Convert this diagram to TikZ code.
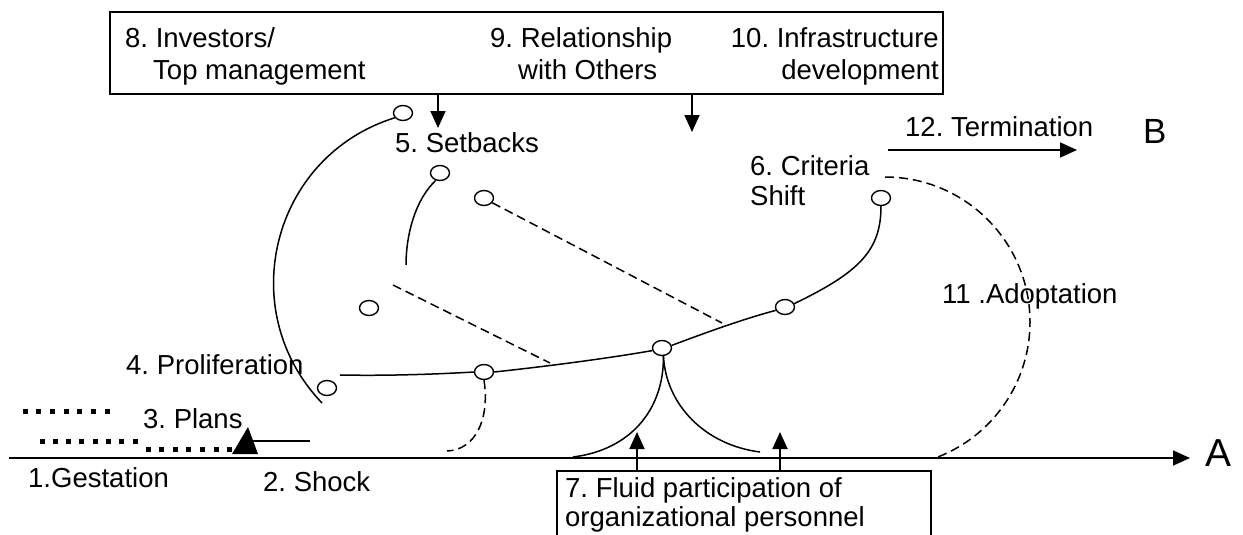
\documentclass[tikz,border=0pt]{standalone}
\usepackage{fontspec}
\setmainfont{Liberation Sans}
\usetikzlibrary{arrows.meta,shapes.geometric}
\frenchspacing
\begin{document}
\begin{tikzpicture}[x=1pt,y=-1pt,
  lbl/.style={font=\fontsize{27.5}{31}\selectfont\frenchspacing, inner sep=0pt, anchor=base west},
  lble/.style={lbl, anchor=base east},
  el/.style={draw, ellipse, minimum width=19pt, minimum height=15pt, inner sep=0pt, line width=1.4pt},
  cv/.style={line width=1.5pt},
  ds/.style={line width=1.5pt, dash pattern=on 9pt off 5pt},
  arr/.style={line width=1.8pt, -{Triangle[length=17pt,width=15pt]}},
  boxst/.style={draw, line width=1.8pt, inner sep=0pt}]
\useasboundingbox (0,0) rectangle (1243,535);

% top box
\node[boxst, minimum width=833pt, minimum height=82pt] (topbox) at (526.5,53) {};
\node[lbl] (t8a) at (125,48) {8. Investors/};
\node[lbl] (t8b) at (153,80) {Top management};
\node[lbl] (t9a) at (490,48) {9. Relationship};
\node[lbl] (t9b) at (518,80) {with Others};
\node[lble] (t10a) at (939,48) {10. Infrastructure};
\node[lble] (t10b) at (939,80) {development};

\coordinate (p5) at (438,128);
\draw[arr] (p5 |- topbox.south) -- (p5);
\coordinate (p9) at (692,132);
\draw[arr] (p9 |- topbox.south) -- (p9);

% labels
\node[lbl] (t5) at (395,152) {5. Setbacks};
\node[lbl] (t6a) at (750,175) {6. Criteria};
\node[lbl] (t6b) at (750,205) {Shift};
\node[lbl] (t4) at (126,374) {4. Proliferation};
\node[lbl] (t3) at (143,428) {3. Plans};
\node[lbl] (t1) at (28,487) {1.Gestation};
\node[lbl] (t2) at (263,491) {2. Shock};
\node[lbl] (t12) at (905,136) {12. Termination};
\node[lbl, font=\fontsize{35}{40}\selectfont] (tB) at (1143,143) {B};
\node[lbl, font=\fontsize{39}{44}\selectfont] (tA) at (1205,466) {A};
\node[lbl] (t11) at (942,303) {11 .Adoptation};

% termination arrow
\coordinate (ts) at (888,150);
\coordinate (te) at (1077,150);
\draw[arr] (ts) -- (te);

% axis
\coordinate (a0) at (9,458);
\coordinate (a1) at (1190,458);
\draw[arr] (a0) -- (a1);

% box 7
\node[boxst, minimum width=374pt, minimum height=100pt, anchor=north west] (box7) at (556,470) {};
\node[lbl] (t7a) at (565,497) {7. Fluid participation of};
\node[lbl] (t7b) at (565,526) {organizational personnel};
\coordinate (q1) at (637,432);
\draw[arr] (q1 |- box7.north) -- (q1);
\coordinate (q2) at (780,432);
\draw[arr] (q2 |- box7.north) -- (q2);

% plans arrow
\coordinate (pl0) at (310,441);
\coordinate (pl1) at (253,441);
\draw[line width=1.6pt] (pl0) -- (pl1);
\fill (232,454) -- (258,454) -- (248,427) -- cycle;

% dots
\foreach \i in {0,...,6} \fill ({25+\i*13.67-2.5},409) rectangle ++(5,4.5);
\foreach \i in {0,...,7} \fill ({42+\i*13.3-2.5},439) rectangle ++(5,4.5);
\foreach \i in {0,...,6} \fill ({148+\i*13.6-2.5},447) rectangle ++(5,4.5);

% ellipses
\node[el] (c1) at (403,113) {};
\node[el] (c2) at (440,173) {};
\node[el] (c3) at (484,198) {};
\node[el] (c4) at (369,308) {};
\node[el] (c5) at (327,388) {};
\node[el] (c6) at (484,372) {};
\node[el] (c7) at (662,348) {};
\node[el] (c8) at (785,307) {};
\node[el] (c9) at (881,198) {};

% curves
\coordinate (e1) at (322,403);
\draw[cv] (c1.210) .. controls (272,156) and (233,310) .. (e1);
\coordinate (e2) at (406,265);
\draw[cv] (c2.240) .. controls (415,200) and (406,235) .. (e2);

\coordinate (d1) at (722,323);
\draw[ds] (c3.-30) -- (d1);
\coordinate (d2a) at (393,285);
\coordinate (d2b) at (550,363);
\draw[ds] (d2a) -- (d2b);

\coordinate (m0) at (340,375);
\draw[cv] (m0) .. controls (390,376) and (440,374) .. (c6.west);
\draw[cv] (c6.east) .. controls (550,366) and (610,358) .. (c7.195);
\draw[cv] (c7.15) .. controls (705,333) and (740,320) .. (c8.200);
\draw[cv] (c8.20) .. controls (860,272) and (881,250) .. (c9.south);

\coordinate (e3) at (447,451);
\draw[ds] (c6.south) .. controls (490,420) and (475,450) .. (e3);

\coordinate (e4) at (573,457);
\coordinate (e5) at (760,452);
\draw[cv] (c7.-80) .. controls (664,410) and (630,450) .. (e4);
\draw[cv] (c7.-80) .. controls (666,405) and (705,445) .. (e5);

\coordinate (g0) at (885,177);
\draw[ds] (g0) arc[start angle=-90, end angle=69, radius=145];
\end{tikzpicture}
\end{document}
